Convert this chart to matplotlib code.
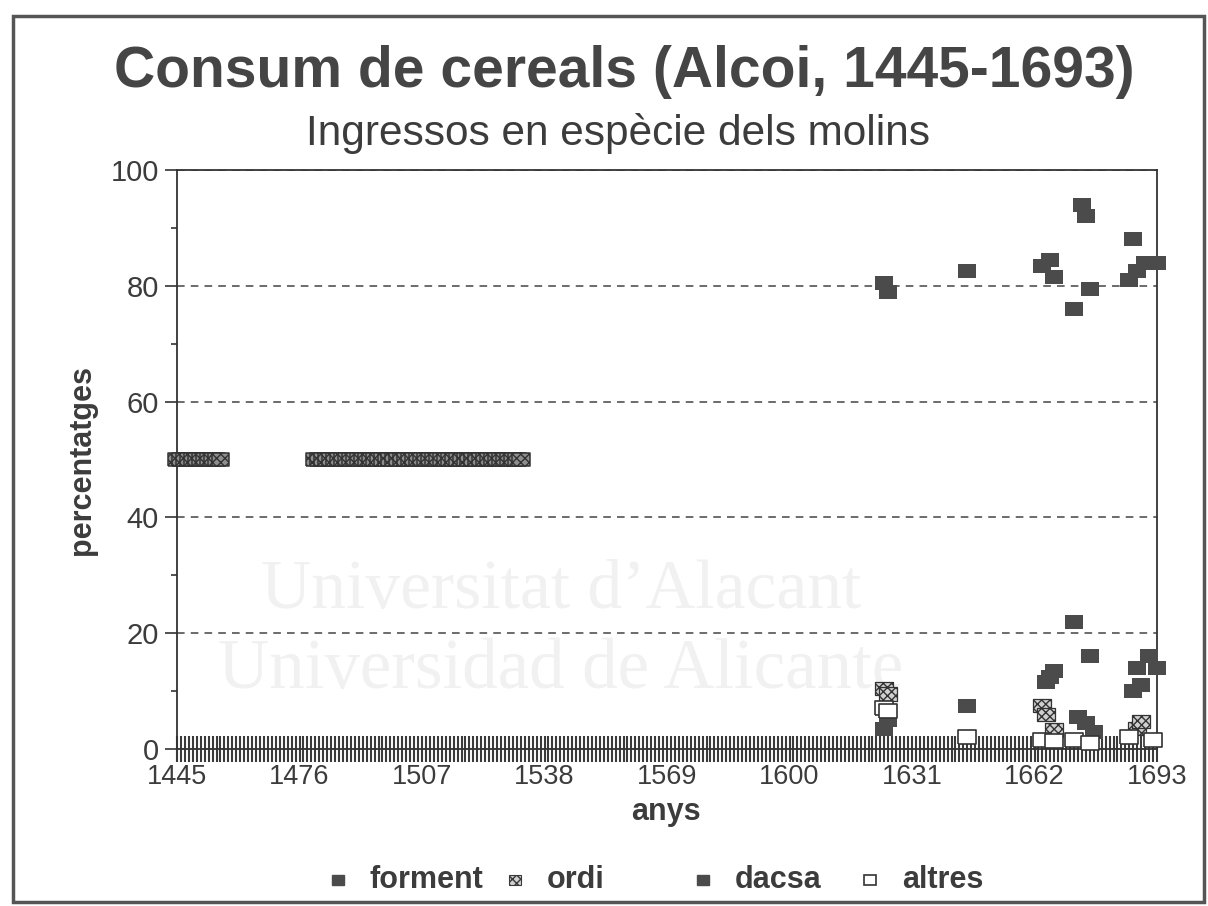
import numpy as np
import matplotlib.pyplot as plt
from matplotlib.patches import Rectangle

plt.rcParams['font.family'] = ['Liberation Sans', 'DejaVu Sans']
plt.rcParams['hatch.color'] = '#3a3a3a'
plt.rcParams['hatch.linewidth'] = 1.0

# --- dades (llegides del gràfic) ---
anys_ordi_inici = list(range(1445, 1457)) + list(range(1480, 1533))
ordi_inici = [50, 50, 50, 50, 50, 50, 50, 50, 50, 50, 50, 50,
              50, 50, 50, 50, 50, 50, 50, 50, 50, 50, 50, 50, 50, 50, 50, 50,
              50, 50, 50, 50, 50, 50, 50, 50, 50, 50, 50, 50, 50, 50, 50, 50,
              50, 50, 50, 50, 50, 50, 50, 50, 50, 50, 50, 50, 50, 50, 50, 50,
              50, 50, 50, 50, 50]

anys_forment = [1624, 1625, 1645, 1664, 1666, 1667, 1672, 1674, 1675, 1676,
                1686, 1687, 1688, 1690, 1693]
forment = [80.5, 79, 82.5, 83.5, 84.5, 81.5, 76, 94, 92, 79.5,
           81, 88, 82.5, 84, 84]

anys_ordi = [1624, 1625, 1664, 1665, 1667, 1688, 1689]
ordi = [10.5, 9.5, 7.5, 6, 3.3, 3.6, 4.7]

anys_dacsa = [1624, 1625, 1645, 1665, 1666, 1667, 1672, 1673, 1675, 1676,
              1677, 1687, 1688, 1689, 1691, 1693]
dacsa = [3.5, 5, 7.5, 11.5, 12.5, 13.5, 22, 5.5, 4.5, 16,
         3, 10, 14, 11, 16, 14]

anys_altres = [1624, 1625, 1645, 1664, 1667, 1672, 1676, 1686, 1692]
altres = [7, 6.5, 2, 1.5, 1.3, 1.5, 1, 2, 1.5]

etiquetes_x = [1445, 1476, 1507, 1538, 1569, 1600, 1631, 1662, 1693]

# --- figura ---
W, H = 1208, 906
fig = plt.figure(figsize=(W / 100, H / 100), dpi=100)
ax = fig.add_axes([177 / W, 1 - 749 / H, (1157 - 177) / W, (749 - 170) / H])
ax.set_facecolor('white')

fosc = '#4b4b4b'
txt = '#3c3c3c'
rect = [(-1.35, -1), (1.35, -1), (1.35, 1), (-1.35, 1), (-1.35, -1)]
s = 165

# marca d'aigua
ax.text(0.392, 0.272, "Universitat d\u2019Alacant", transform=ax.transAxes,
        family='Liberation Serif', fontsize=50, color='#f1f1f1',
        ha='center', va='center', zorder=0)
ax.text(0.392, 0.135, "Universidad de Alicante", transform=ax.transAxes,
        family='Liberation Serif', fontsize=51, color='#f1f1f1',
        ha='center', va='center', zorder=0)

ax.scatter(anys_forment, forment, marker=rect, s=s, color=fosc,
           linewidths=0, zorder=3, clip_on=False)
ax.scatter(anys_ordi_inici, ordi_inici, marker=rect, s=s, facecolor='#8e8e8e',
           edgecolor='#333333', hatch='xxxx', linewidths=1.1, zorder=4, clip_on=False)
ax.scatter(anys_ordi, ordi, marker=rect, s=s, facecolor='#d0d0d0',
           edgecolor='#333333', hatch='xxxx', linewidths=0.9, zorder=4, clip_on=False)
ax.scatter(anys_dacsa, dacsa, marker=rect, s=s, color=fosc,
           linewidths=0, zorder=5, clip_on=False)
ax.scatter(anys_altres, altres, marker=rect, s=s, facecolor='white',
           edgecolor='#333333', linewidths=1.2, zorder=6, clip_on=False)

ax.set_xlim(1445, 1693)
ax.set_ylim(0, 100)

# eixos
for sp in ax.spines.values():
    sp.set_color('#333333')
    sp.set_linewidth(1.3)

ax.set_yticks([0, 20, 40, 60, 80, 100])
ax.set_yticks([10, 30, 50, 70, 90], minor=True)
ax.set_xticks(etiquetes_x)
ax.set_xticks(np.arange(1445, 1694), minor=True)
ax.tick_params(axis='y', which='major', direction='out', length=9, width=1.2,
               color='#333333', labelsize=21, labelcolor=txt, pad=4)
ax.tick_params(axis='y', which='minor', direction='out', length=4, width=1.2,
               color='#333333')
ax.tick_params(axis='x', which='both', direction='inout', length=19, width=1.5,
               color='#3a3a3a', labelsize=19.5, labelcolor=txt, pad=1)

ax.yaxis.grid(True, which='major', linestyle=(0, (5, 4)), color='#444444',
              linewidth=1.1)
ax.set_axisbelow(True)

# textos
fig.text(0.517, 0.921, "Consum de cereals (Alcoi, 1445-1693)", ha='center',
         va='center', fontsize=41, fontweight='bold', color='#454545')
fig.text(0.512, 0.853, "Ingressos en esp\u00e8cie dels molins", ha='center',
         va='center', fontsize=30.5, color=txt)
fig.text(0.068, 1 - 460 / H, "percentatges", rotation=90, ha='center',
         va='center', fontsize=22, fontweight='bold', color=txt)
fig.text(666 / W, 1 - 812 / H, "anys", ha='center', va='center',
         fontsize=22, fontweight='bold', color=txt)

# llegenda
ly = 1 - 880 / H
mw, mh = 12 / W, 10 / H
estils = [
    (338, 'forment', dict(facecolor=fosc, edgecolor=fosc)),
    (515, 'ordi', dict(facecolor='#d0d0d0', edgecolor='#3a3a3a', hatch='xxxx', lw=0.8)),
    (703, 'dacsa', dict(facecolor=fosc, edgecolor=fosc)),
    (870, 'altres', dict(facecolor='white', edgecolor='#333333', lw=1.2)),
]
for x, nom, st in estils:
    fig.add_artist(Rectangle((x / W - mw / 2, ly - mh / 2), mw, mh,
                             transform=fig.transFigure, **st))
    fig.text((x + 32) / W, ly, nom, ha='left', va='center', fontsize=22,
             fontweight='bold', color=txt)

# marc exterior
fig.add_artist(Rectangle((13 / W, 4 / H), (1204 - 13) / W, (890 - 4) / H,
                         transform=fig.transFigure, fill=False,
                         edgecolor='#555555', lw=2.5))

fig.savefig("out.png", dpi=100)
